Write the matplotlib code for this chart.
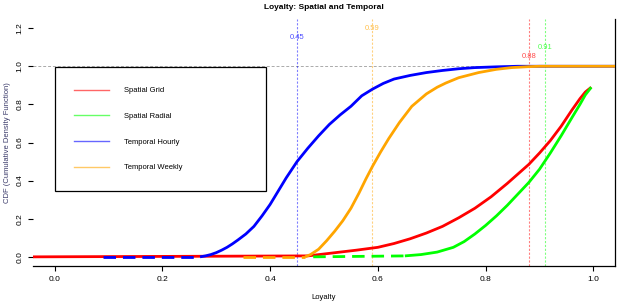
import matplotlib
matplotlib.use("Agg")
import matplotlib.pyplot as plt
from matplotlib.lines import Line2D

plt.rcParams['font.family'] = ['Liberation Sans', 'DejaVu Sans']

# CDF curves
red_x = [-0.04, 0.47, 0.50, 0.53, 0.56, 0.60, 0.63, 0.66, 0.69, 0.72, 0.75, 0.78, 0.81,
         0.84, 0.86, 0.88, 0.90, 0.92, 0.94, 0.96, 0.975, 0.985, 0.996]
red_y = [0.0, 0.005, 0.015, 0.025, 0.035, 0.05, 0.07, 0.095, 0.125, 0.16, 0.205, 0.255, 0.315,
         0.385, 0.435, 0.485, 0.545, 0.61, 0.685, 0.77, 0.83, 0.865, 0.89]

green_x = [0.48, 0.65, 0.68, 0.71, 0.74, 0.76, 0.78, 0.80, 0.82, 0.84, 0.86, 0.88, 0.90,
           0.92, 0.94, 0.96, 0.975, 0.985, 0.996]
green_y = [0.0, 0.005, 0.012, 0.025, 0.05, 0.08, 0.12, 0.165, 0.215, 0.27, 0.33, 0.39, 0.46,
           0.545, 0.635, 0.73, 0.80, 0.85, 0.89]

blue_x = [0.09, 0.27, 0.28, 0.29, 0.30, 0.31, 0.32, 0.33, 0.34, 0.355, 0.37, 0.385, 0.40,
          0.415, 0.43, 0.45, 0.47, 0.49, 0.51, 0.53, 0.55, 0.57, 0.59, 0.61, 0.63, 0.66,
          0.69, 0.72, 0.75, 0.78, 0.82, 0.86, 1.04]
blue_y = [0.0, 0.0, 0.005, 0.012, 0.022, 0.035, 0.05, 0.068, 0.088, 0.12, 0.16, 0.215, 0.275,
          0.345, 0.415, 0.50, 0.57, 0.635, 0.695, 0.745, 0.79, 0.845, 0.88, 0.91, 0.933, 0.952,
          0.967, 0.978, 0.987, 0.993, 0.997, 1.0, 1.0]

orange_x = [0.35, 0.465, 0.475, 0.49, 0.505, 0.52, 0.535, 0.55, 0.565, 0.578, 0.59, 0.605,
            0.62, 0.64, 0.663, 0.69, 0.71, 0.726, 0.75, 0.787, 0.82, 0.848, 0.88, 0.90, 1.04]
orange_y = [0.0, 0.0, 0.012, 0.04, 0.085, 0.135, 0.19, 0.255, 0.335, 0.41, 0.475, 0.55,
            0.62, 0.705, 0.79, 0.855, 0.89, 0.912, 0.94, 0.967, 0.984, 0.993, 0.998, 1.0, 1.0]

labels = ["Spatial Grid", "Spatial Radial", "Temporal Hourly", "Temporal Weekly"]
colors = ["#ff0000", "#00ff00", "#0000ff", "#ffa500"]

# medians (vertical lines) and the height of their labels
medians = [0.88, 0.91, 0.45, 0.59]
median_label_y = [1.05, 1.10, 1.15, 1.20]

xticks = [0.0, 0.2, 0.4, 0.6, 0.8, 1.0]
yticks = [0.0, 0.2, 0.4, 0.6, 0.8, 1.0, 1.2]

fig = plt.figure(figsize=(6.19, 3.03), dpi=100)
ax = fig.add_axes([33 / 619, 37 / 303, 582 / 619, 247 / 303])

lw = 2.0
series = [(red_x, red_y), (green_x, green_y), (blue_x, blue_y), (orange_x, orange_y)]
# flat part at 0 is drawn dashed (overlapping points in the original), then the rise solid
for i, (xs, ys) in enumerate(series):
    z = 3 + i
    if i == 0:
        ax.plot(xs, ys, color=colors[i], lw=lw, zorder=z, solid_capstyle='butt',
                solid_joinstyle='round')
    else:
        ax.plot(xs[:2], ys[:2], color=colors[i], lw=lw, zorder=z,
                dashes=(4.5, 2.5), dash_capstyle='butt')
        ax.plot(xs[1:], ys[1:], color=colors[i], lw=lw, zorder=z, solid_capstyle='butt',
                solid_joinstyle='round')

ax.axhline(1.0, color='#aaaaaa', lw=0.7, dashes=(3, 2), zorder=1)
for m, ly, c in zip(medians, median_label_y, colors):
    ax.axvline(m, color=c, lw=0.8, dashes=(2, 1.5), alpha=0.5, zorder=2)
    ax.text(m, ly, "%.2f" % m, color=c, alpha=0.7, fontsize=5.5, ha='center', va='center')

ax.set_xlim(-0.04, 1.04)
ax.set_ylim(-0.048, 1.248)
ax.set_xticks(xticks)
ax.set_xticklabels(["%.1f" % v for v in xticks], fontsize=6)
ax.set_yticks(yticks)
ax.set_yticklabels(["%.1f" % v for v in yticks], fontsize=6, rotation=90, va='center')
ax.tick_params(length=3.6, width=0.8, pad=3.5)

ax.spines['top'].set_visible(False)
ax.spines['left'].set_visible(False)
ax.spines['bottom'].set_linewidth(0.9)
ax.spines['right'].set_linewidth(0.9)

ax.set_title("Loyalty: Spatial and Temporal", fontsize=6, fontweight='bold', pad=7)
ax.set_xlabel("Loyalty", fontsize=5.5, labelpad=8)
ax.set_ylabel("CDF (Cumulative Density Function)", fontsize=5.5, color='#3a3a6a', labelpad=4)

handles = [Line2D([], [], color=c, lw=1, alpha=0.6) for c in colors]
leg = ax.legend(handles, labels, loc='upper left', bbox_to_anchor=(0.037, 0.296, 0.364, 0.509),
                mode='expand', ncol=1, fontsize=5.5, frameon=True, fancybox=False,
                edgecolor='black', framealpha=1, borderpad=2.6, labelspacing=2.4,
                handlelength=4.5, handletextpad=2.0, borderaxespad=0)
leg.get_frame().set_linewidth(0.9)

fig.savefig("out.png", dpi=100)
